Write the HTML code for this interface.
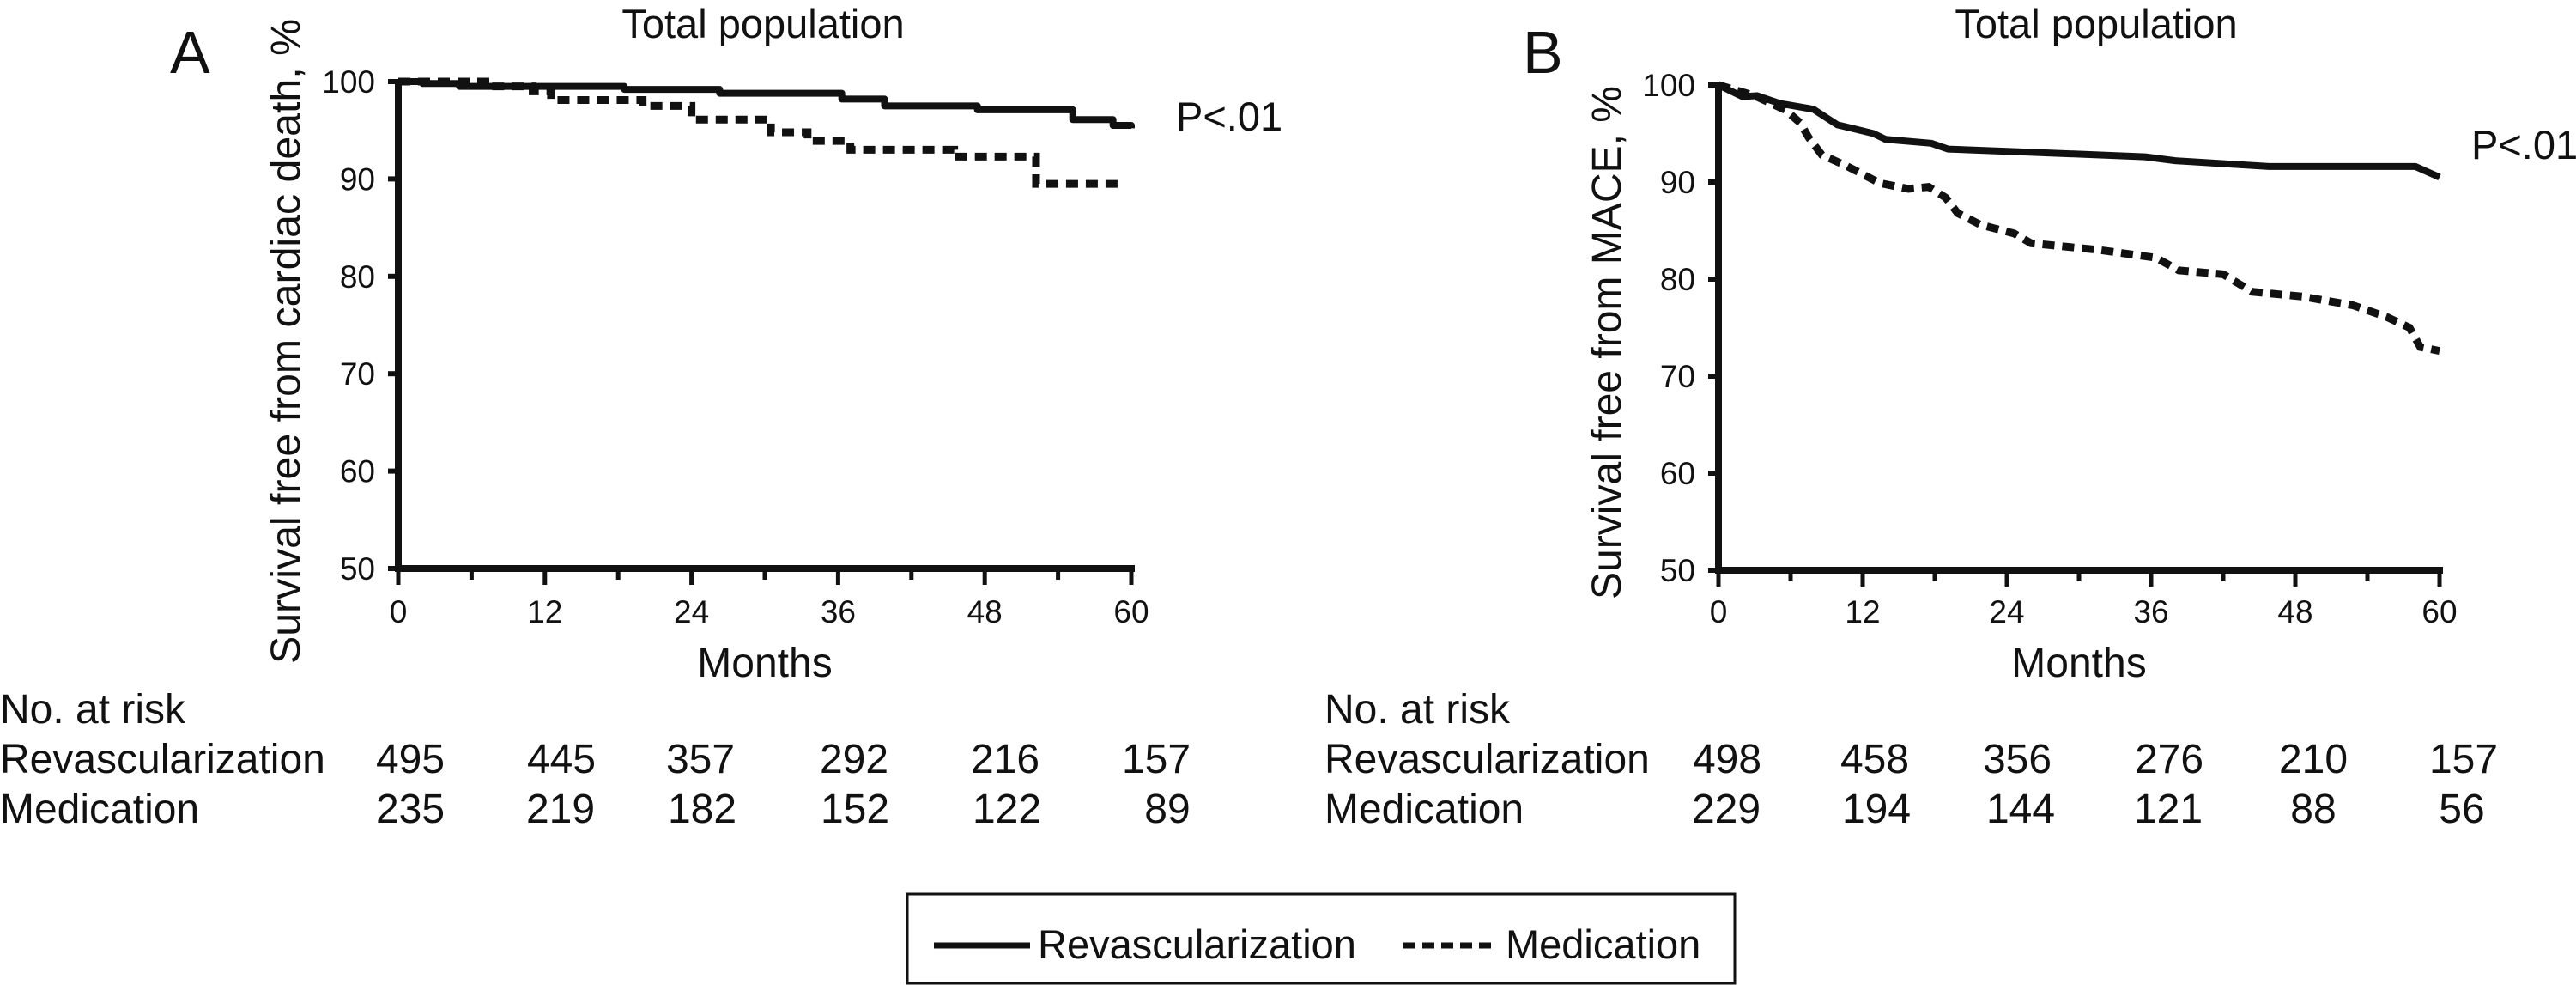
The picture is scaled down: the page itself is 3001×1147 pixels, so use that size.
<!DOCTYPE html>
<html><head><meta charset="utf-8"><style>
html,body{margin:0;padding:0;background:#fff}
svg{display:block}
text{font-family:"Liberation Sans",Arial,sans-serif;fill:#111}
</style></head><body>
<svg id="fig" width="3001" height="1147" viewBox="0 0 3001 1147" xmlns="http://www.w3.org/2000/svg">
<g id="panelA"></g>
<g id="panelB"></g>
<g>
<rect x="1057" y="1041" width="964" height="104" fill="none" stroke="#111" stroke-width="3"/>
<line x1="1088" y1="1101" x2="1200" y2="1101" stroke="#111" stroke-width="7"/>
<text x="1209" y="1116" font-size="47">Revascularization</text>
<line x1="1635" y1="1101" x2="1745" y2="1101" stroke="#111" stroke-width="7" stroke-dasharray="14,8"/>
<text x="1754" y="1116" font-size="47">Medication</text>
</g>
</svg>
<script>
// Panel A data (cardiac death)
const aRevT = [0, 2, 5, 18.5, 26.3, 36.3, 39.8, 47.4, 55.2, 58.5, 60];
const aRevS = [100, 99.8, 99.5, 99.2, 98.8, 98.2, 97.5, 97.1, 96.1, 95.5, 95.2];
const aMedT = [0, 8, 11, 12.5, 20, 24, 30.5, 33.5, 37, 45.5, 52.2, 59.5];
const aMedS = [100, 99.5, 99.0, 98.1, 97.5, 96.1, 94.8, 93.9, 93.0, 92.3, 89.5, 89.5];
const aRiskRev = ["495","445","357","292","216","157"];
const aRiskMed = ["235","219","182","152","122","89"];
// Panel B data (MACE)
const bRevT = [0, 2, 3.2, 5.1, 7.9, 9.9, 12.9, 13.9, 17.7, 19.1, 25.4, 35.5, 38, 45.8, 58, 60];
const bRevS = [100, 98.8, 98.9, 98.1, 97.5, 95.9, 95.0, 94.4, 94.0, 93.4, 93.1, 92.6, 92.2, 91.6, 91.6, 90.5];
const bMedT = [0, 3, 5.6, 6.8, 7.5, 8.6, 10.6, 12, 13.4, 15.8, 17.5, 18.9, 19.9, 21.8, 24.6, 26, 31.7, 36.4, 38.3, 42, 44.4, 48.6, 52.8, 55.6, 57.5, 58.4, 60];
const bMedS = [100, 98.9, 97.4, 96.1, 94.6, 92.8, 91.7, 90.8, 89.9, 89.3, 89.5, 88.4, 86.8, 85.6, 84.7, 83.7, 83.0, 82.2, 80.9, 80.5, 78.7, 78.2, 77.3, 76.1, 75.0, 73.0, 72.6];
const bRiskRev = ["498","458","356","276","210","157"];
const bRiskMed = ["229","194","144","121","88","56"];
const xTicks = [0, 12, 24, 36, 48, 60];
const yTicks = [100, 90, 80, 70, 60, 50];

const NS = "http://www.w3.org/2000/svg";
function mk(parent, tag, attrs, txt){
  const e = document.createElementNS(NS, tag);
  for (const k in attrs) e.setAttribute(k, attrs[k]);
  if (txt !== undefined) e.textContent = txt;
  parent.appendChild(e); return e;
}
function panel(g, cfg){
  const sx = t => cfg.x0 + (t/60)*(cfg.x1-cfg.x0);
  const sy = v => cfg.y50 - (v-50)/50*(cfg.y50-cfg.y100);
  let e;
  e = mk(g,'text',{x:cfg.letterX,y:85,'font-size':70}, cfg.letter);
  
  
  e = mk(g,'text',{x:cfg.titleX,y:44,'font-size':47,'text-anchor':'middle'},'Total population');
  
  
  const cy = (cfg.ytTop+cfg.ytBot)/2;
  e = mk(g,'text',{x:0,y:0,'font-size':48,'text-anchor':'middle',transform:`translate(${cfg.ytX},${cy}) rotate(-90)`,textLength:cfg.ytBot-cfg.ytTop,lengthAdjust:'spacingAndGlyphs'},cfg.ytitle);
  
  
  e = mk(g,'line',{x1:cfg.x0,y1:sy(100)-3,x2:cfg.x0,y2:sy(50)+3,stroke:'#111','stroke-width':8});
  
  
  e = mk(g,'line',{x1:cfg.x0-4,y1:sy(50),x2:sx(60)+4,y2:sy(50),stroke:'#111','stroke-width':8});
  
  
  yTicks.forEach(v=>{
    e = mk(g,'line',{x1:cfg.x0-12,y1:sy(v),x2:cfg.x0,y2:sy(v),stroke:'#111','stroke-width':6});
    
    
    e = mk(g,'text',{x:cfg.x0-27,y:sy(v)+13,'font-size':37,'text-anchor':'end'},String(v));
    
    
  });
  for (let t=0;t<=60;t+=6){
    const major = t%12===0;
    e = mk(g,'line',{x1:sx(t),y1:sy(50),x2:sx(t),y2:sy(50)+(major?19:13),stroke:'#111','stroke-width':5});
    
    
  }
  xTicks.forEach(t=>{
    e = mk(g,'text',{x:sx(t),y:725,'font-size':37,'text-anchor':'middle'},String(t));
    
    
  });
  e = mk(g,'text',{x:(cfg.x0+cfg.x1)/2,y:788,'font-size':48,'text-anchor':'middle'},'Months');
  
  
  const pts = (T,S,step)=>{
    let p=[];
    for(let i=0;i<T.length;i++){
      if(step && i>0) p.push(sx(T[i])+','+sy(S[i-1]));
      p.push(sx(T[i])+','+sy(S[i]));
    }
    return p.join(' ');
  };
  e = mk(g,'polyline',{points:pts(cfg.mT,cfg.mS,cfg.step),fill:'none',stroke:'#111','stroke-width':9,'stroke-dasharray':'14,9'});
  
  
  e = mk(g,'polyline',{points:pts(cfg.rT,cfg.rS,cfg.step),fill:'none',stroke:'#111','stroke-width':8,'stroke-linejoin':'round'});
  
  
  e = mk(g,'text',{x:cfg.pX,y:cfg.pY,'font-size':47},'P<.01');
  
  
  e = mk(g,'text',{x:cfg.tX,y:842,'font-size':48},'No. at risk');
  
  
  e = mk(g,'text',{x:cfg.tX,y:900,'font-size':48},'Revascularization');
  
  
  e = mk(g,'text',{x:cfg.tX,y:958,'font-size':48},'Medication');
  
  
  cfg.rev.forEach((v,i)=>{
    e = mk(g,'text',{x:cfg.revC[i],y:900,'font-size':48,'text-anchor':'middle'},v);
    
    
  });
  cfg.med.forEach((v,i)=>{
    e = mk(g,'text',{x:cfg.medC[i],y:958,'font-size':48,'text-anchor':'middle'},v);
    
    
  });
}
panel(document.getElementById('panelA'),{
  letter:'A',letterX:198,titleX:889,x0:464,x1:1318,y100:95,y50:662,
  ytitle:'Survival free from cardiac death, %',ytX:349,ytTop:22,ytBot:773,
  rT:aRevT,rS:aRevS,mT:aMedT,mS:aMedS,step:true,pX:1370,pY:152,
  tX:0,rev:aRiskRev,med:aRiskMed,
  revC:[478,654,816,995,1171,1347],medC:[478,653,818,996,1173,1360]
});
panel(document.getElementById('panelB'),{
  letter:'B',letterX:1774,titleX:2442,x0:2002,x1:2842,y100:99,y50:664,
  ytitle:'Survival free from MACE, %',ytX:1888,ytTop:100,ytBot:698,
  rT:bRevT,rS:bRevS,mT:bMedT,mS:bMedS,step:false,pX:2879,pY:185,
  tX:1543,rev:bRiskRev,med:bRiskMed,
  revC:[2012,2184,2350,2527,2695,2870],medC:[2011,2186,2354,2526,2695,2868]
});
</script>
</body></html>
